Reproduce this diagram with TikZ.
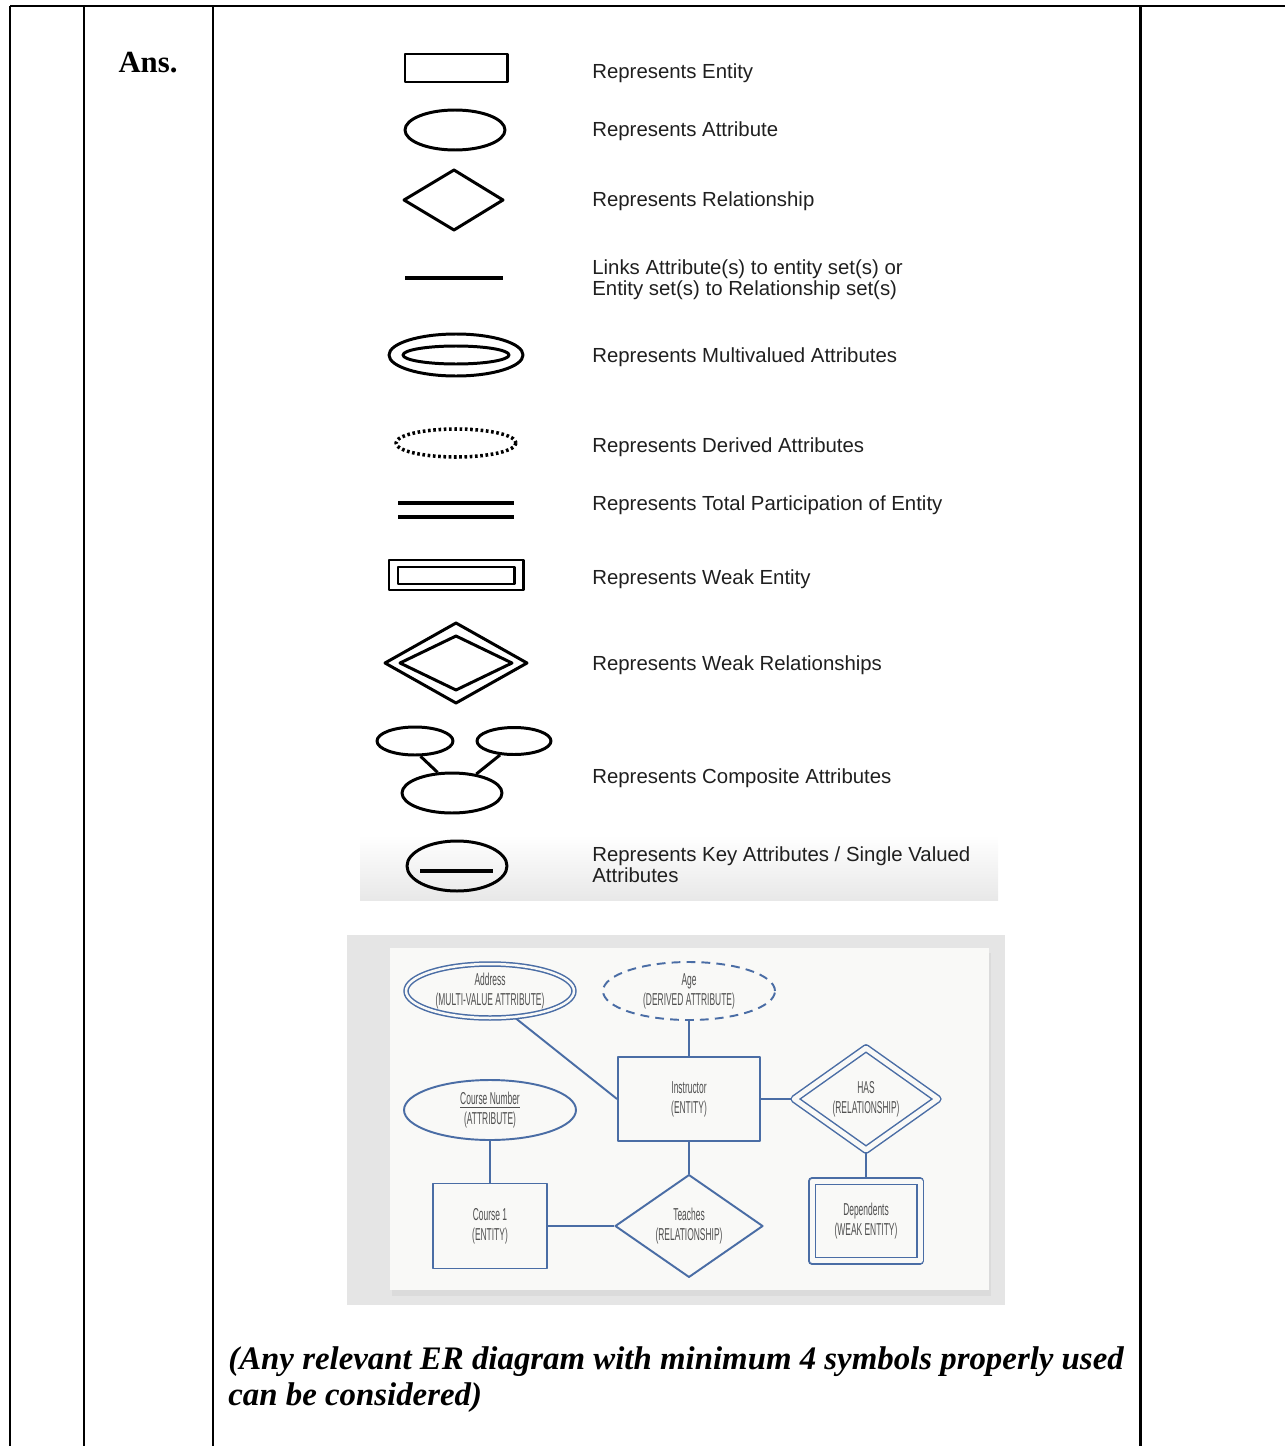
\documentclass[tikz,border=0pt]{standalone}
\usepackage{fontspec}
\setmainfont{Liberation Serif}
\newfontfamily\legendfont{Liberation Sans}
\newfontfamily\erfont[FakeStretch=0.49]{Liberation Sans}
\usetikzlibrary{shapes.geometric,backgrounds}

\begin{document}
\begin{tikzpicture}[x=0.02cm,y=-0.02cm,line join=round]
			\definecolor{erblue}{HTML}{4A6DA5}
			\definecolor{ertext}{HTML}{505050}
			\definecolor{paper}{HTML}{F9F9F7}
			\definecolor{wall}{HTML}{E5E5E5}
			\useasboundingbox (0,0) rectangle (1285,1446);
			
			\tikzset{
				sym/.style={draw=black,line width=1.7pt,inner sep=0pt},
				legtext/.style={anchor=west,inner sep=0pt,align=left,text=black!88,
					font=\legendfont\fontsize{11.6}{11.9}\selectfont},
				er/.style={draw=erblue,line width=1.1pt,inner sep=0pt,align=center,text=ertext,
					font=\erfont\fontsize{9.8}{11.3}\selectfont},
				weak/.style={line width=0.85pt,double=paper,double distance=0.1cm},
				erline/.style={draw=erblue,line width=1.1pt},
				note/.style={anchor=west,inner sep=0pt,font=\bfseries\itshape\fontsize{18.7}{20}\selectfont}
			}
			
			%------------khung bang
			\draw[line width=1.7pt] (10,6) -- (1285,6);
			\foreach \x in {10,84,213,1140}
				\draw[line width=1.7pt] (\x,6) -- (\x,1446);
			\node[font=\bfseries\fontsize{17.5}{20}\selectfont] (ans) at (148,63) {Ans.};
			
			%------------bang ky hieu
			\shade[top color=white,bottom color=black!9] (360,835) rectangle (998,900);
			\draw[sym] (405,54) rectangle (507,82);
			\draw[sym] (455,130) ellipse [x radius=50,y radius=20];
			\draw[sym] (404,200) -- (454,170) -- (503,200) -- (454,230) -- cycle;
			\draw[sym,line width=2.2pt] (405,278) -- (503,278);
			\draw[sym] (456,355) ellipse [x radius=67,y radius=21];
			\draw[sym] (456,355) ellipse [x radius=53,y radius=9];
			\draw[sym,line width=2pt,dash pattern=on 1.5pt off 1.5pt] (456,443) ellipse [x radius=60,y radius=14];
			\draw[sym,line width=2.2pt] (398,503) -- (514,503) (398,517) -- (514,517);
			\draw[sym] (389,560) rectangle (523,590);
			\draw[sym] (398,567) rectangle (514,584);
			\draw[sym] (385,663) -- (456,623) -- (527,663) -- (456,703) -- cycle;
			\draw[sym] (400,663) -- (456,636) -- (512,663) -- (456,690) -- cycle;
			\node[sym,ellipse,minimum width=1.52cm,minimum height=0.56cm] (cpA) at (415,741) {};
			\node[sym,ellipse,minimum width=1.48cm,minimum height=0.54cm] (cpB) at (514,741) {};
			\node[sym,ellipse,minimum width=2cm,minimum height=0.8cm] (cpC) at (452,793) {};
			\draw[sym] (cpA.-70) -- (cpC.125);
			\draw[sym] (cpB.225) -- (cpC.38);
			\draw[sym] (457,866) ellipse [x radius=50,y radius=25];
			\draw[sym,line width=2.2pt] (420,871) -- (493,871);
			
			\node[legtext] (tEnt) at (592,73) {Represents Entity};
			\node[legtext] (tAtt) at (592,131) {Represents Attribute};
			\node[legtext] (tRel) at (592,201) {Represents Relationship};
			\node[legtext] (tLnk) at (592,280) {Links Attribute(s) to entity set(s) or\\Entity set(s) to Relationship set(s)};
			\node[legtext] (tMul) at (592,357) {Represents Multivalued Attributes};
			\node[legtext] (tDer) at (592,447) {Represents Derived Attributes};
			\node[legtext] (tTot) at (592,505) {Represents Total Participation of Entity};
			\node[legtext] (tWkE) at (592,579) {Represents Weak Entity};
			\node[legtext] (tWkR) at (592,665) {Represents Weak Relationships};
			\node[legtext] (tCmp) at (592,778) {Represents Composite Attributes};
			\node[legtext] (tKey) at (592,865) {Represents Key Attributes / Single Valued\\Attributes};
			
			%------------so do ER
			\node[er,ellipse,weak,double distance=0.05cm,minimum width=3.36cm,minimum height=1.08cm] (addr) at (490,991) {Address\\(MULTI-VALUE ATTRIBUTE)};
			\node[er,ellipse,dash pattern=on 5pt off 3.5pt,minimum width=3.44cm,minimum height=1.16cm] (age) at (689,991) {Age\\(DERIVED ATTRIBUTE)};
			\node[er,rectangle,minimum width=2.84cm,minimum height=1.68cm] (instr) at (689,1099) {Instructor\\(ENTITY)};
			\node[er,ellipse,minimum width=3.44cm,minimum height=1.2cm] (cnum) at (490,1110) {\underline{Course Number}\\(ATTRIBUTE)};
			\node[er,diamond,weak,minimum width=2.88cm,minimum height=1.91cm] (has) at (866,1099) {HAS\\(RELATIONSHIP)};
			\node[er,rectangle,minimum width=2.28cm,minimum height=1.7cm] (course) at (490,1226) {Course 1\\(ENTITY)};
			\node[er,diamond,minimum width=2.96cm,minimum height=1.9cm] (teach) at (689,1226) {Teaches\\(RELATIONSHIP)};
			\node[er,rectangle,weak,minimum width=2.16cm,minimum height=1.59cm] (dep) at (866,1221) {Dependents\\(WEAK ENTITY)};
			
			\begin{pgfonlayer}{background}
				%------------nen anh
				\fill[wall] (347,935) rectangle (1005,1305);
				\fill[black!14] (392,953) rectangle (991,1296);
				\fill[paper] (390,948) rectangle (989,1290);
				%------------duong noi
				\draw[erline] (addr.-47) -- (instr.west);
				\draw[erline] (age) -- (instr);
				\draw[erline] (cnum) -- (course);
				\draw[erline] (course) -- (teach);
				\draw[erline] (instr) -- (teach);
				\draw[erline] (instr) -- (has);
				\draw[erline] (has) -- (dep);
			\end{pgfonlayer}
			
			%------------ghi chu
			\node[note] (noteA) at (228,1362) {(Any relevant ER diagram with minimum 4 symbols properly used};
			\node[note] (noteB) at (228,1398) {can be considered)};
		\end{tikzpicture}
\end{document}
